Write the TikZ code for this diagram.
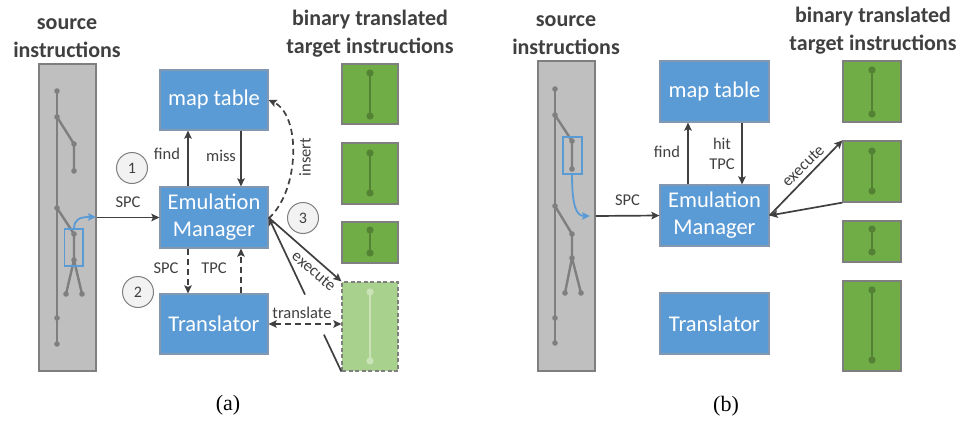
\documentclass[tikz,border=0pt]{standalone}
\usepackage{fontspec}
\setmainfont{Carlito}
\newfontfamily\capfont{Liberation Serif}
\usetikzlibrary{arrows.meta,calc}

\definecolor{boxblue}{HTML}{5B9BD5}
\definecolor{boxedge}{HTML}{8497B0}
\definecolor{srcgray}{HTML}{BFBFBF}
\definecolor{srcedge}{HTML}{7F7F7F}
\definecolor{treegray}{HTML}{7F7F7F}
\definecolor{tgtgreen}{HTML}{70AD47}
\definecolor{tgtline}{HTML}{548235}
\definecolor{lightgreen}{HTML}{A9D18E}
\definecolor{lightline}{HTML}{C9E2B8}
\definecolor{inkgray}{HTML}{404040}
\definecolor{circfill}{HTML}{F2F2F2}

\tikzset{
  blk/.style={draw=boxedge, line width=1.2pt, fill=boxblue, text=white,
    minimum width=108pt, minimum height=60pt, inner sep=0pt, align=center,
    font=\fontsize{22.5}{27}\selectfont},
  srccol/.style={draw=srcedge, line width=1.2pt, fill=srcgray,
    minimum width=57pt, inner sep=0pt},
  tgt/.style={draw=srcedge, line width=1.2pt, fill=tgtgreen,
    minimum width=56pt, inner sep=0pt},
  tgtnew/.style={draw=srcedge, line width=1.2pt, dashed, dash pattern=on 4pt off 2.5pt,
    fill=lightgreen, minimum width=56pt, inner sep=0pt},
  ttl/.style={text=inkgray, align=center, font=\bfseries\fontsize{22}{28}\selectfont},
  lbl/.style={text=inkgray, inner sep=0pt, font=\fontsize{16.5}{19}\selectfont},
  capt/.style={text=black, font=\capfont\fontsize{22}{26}\selectfont},
  stepnum/.style={circle, draw=srcedge, line width=1pt, fill=circfill,
    minimum size=31pt, inner sep=0pt, text=inkgray, font=\fontsize{16}{19}\selectfont},
  arr/.style={draw=inkgray, line width=1.7pt,
    -{Stealth[length=8pt,width=7.5pt,inset=1.5pt]}},
  plain/.style={draw=inkgray, line width=1.7pt},
  darr/.style={arr, dash pattern=on 6pt off 4pt},
  dboth/.style={darr, {Stealth[length=8pt,width=7.5pt,inset=1.5pt]}-{Stealth[length=8pt,width=7.5pt,inset=1.5pt]}},
  tree/.style={draw=treegray, line width=2.4pt, line cap=round},
  bluecurve/.style={draw=boxblue, line width=1.8pt,
    -{Stealth[length=8pt,width=7.5pt,inset=1.5pt]}},
  bluerect/.style={draw=boxblue, line width=1.8pt},
}

% a dot of an instruction tree
\newcommand{\tdot}[3][treegray]{\fill[#1] (#2,#3) circle (2.8pt);}
\newcommand{\gdot}[3][tgtline]{\fill[#1] (#2,#3) circle (3.6pt);}

\begin{document}
\begin{tikzpicture}[x=1pt,y=-1pt]
\useasboundingbox (0,0) rectangle (965,425);
\fill[white] (0,0) rectangle (965,425);

% ================= panel (a) =================
\node[ttl] (ttlsrcA) at (67,38) {source\\instructions};
\node[ttl] (ttltgtA) at (370,33.5) {binary translated\\target instructions};

\node[srccol, minimum height=307pt] (srcA) at (67.5,217.5) {};
% source instruction tree
\draw[tree] (57,91) -- (57,344);
\draw[tree] (57,117) -- (74,144) -- (74,171);
\draw[tree] (57,208) -- (74,234) -- (74,260) -- (66,294);
\draw[tree] (74,260) -- (82,294);
\foreach \yy in {91,117,208,318,344} {\tdot{57}{\yy}}
\foreach \xx/\yy in {74/144,74/171,74/234,74/260,66/294,82/294} {\tdot{\xx}{\yy}}
\draw[bluerect] (64.5,229) rectangle (83,266);
\draw[bluecurve] (74,229) .. controls (74,219) and (80,217) .. (96,217);

\node[blk] (mapA) at (214,100) {map table};
\node[blk, minimum height=61pt] (emA) at (214,217.5) {Emulation\\Manager};
\node[blk] (trA) at (214,324) {Translator};

\node[tgt, minimum height=60pt] (tA1) at (370,94) {};
\node[tgt, minimum height=61pt] (tA2) at (370,173.5) {};
\node[tgt, minimum height=41pt] (tA3) at (370,242.5) {};
\node[tgtnew, minimum height=89pt] (tA4) at (370,326.5) {};
\draw[tgtline, line width=2.4pt] (370,73) -- (370,116); \gdot{370}{73}\gdot{370}{116}
\draw[tgtline, line width=2.4pt] (370,153) -- (370,193); \gdot{370}{153}\gdot{370}{193}
\draw[tgtline, line width=2.4pt] (370,230) -- (370,253); \gdot{370}{230}\gdot{370}{253}
\draw[lightline, line width=2.4pt] (370,292) -- (370,361); \gdot[lightline]{370}{292}\gdot[lightline]{370}{361}

% connectors
\draw[arr] (srcA.east) -- node[lbl, above=9pt] {SPC} (emA.west);
\draw[arr] ([xshift=-26pt]emA.north) -- ([xshift=-26pt]mapA.south);
\draw[arr] ([xshift=27pt]mapA.south) -- ([xshift=27pt]emA.north);
\node[lbl] (findA) at (167,154) {find};
\node[lbl] (missA) at (221,156) {miss};
\draw[darr] ([xshift=-26pt]emA.south) -- ([xshift=-26pt]trA.north);
\draw[darr] ([xshift=27pt]trA.north) -- ([xshift=27pt]emA.south);
\node[lbl] (spcA2) at (166,268) {SPC};
\node[lbl] (tpcA) at (214,268) {TPC};
\draw[darr] ([yshift=-1pt]emA.east) .. controls (300,190) and (301,115) .. (mapA.east);
\node[lbl, rotate=90] (insA) at (305,157) {insert};
\draw[arr] (emA.east) -- (tA4.north west);
\node[lbl, rotate=-40.8] (exeA) at (314,271) {execute};
\draw[plain] (tA4.south west) -- ($(tA4.south west)!0.24!(emA.east)$);
\draw[arr] ($(tA4.south west)!0.5!(emA.east)$) -- (emA.east);
\draw[dboth] (trA.east) -- (trA.east -| tA4.west);
\node[lbl] (trlA) at (302,313) {translate};

\node[stepnum] (c1) at (132,168) {1};
\node[stepnum] (c2) at (138,292) {2};
\node[stepnum] (c3) at (303,218) {3};

\node[capt] (capA) at (228,405) {(a)};

% ================= panel (b) =================
\node[ttl] (ttlsrcB) at (566,35) {source\\instructions};
\node[ttl] (ttltgtB) at (873,31) {binary translated\\target instructions};

\node[srccol, minimum height=310pt] (srcB) at (566.5,216) {};
\draw[tree] (555,89) -- (555,343);
\draw[tree] (555,115) -- (572,141) -- (572,169);
\draw[tree] (555,206) -- (572,234) -- (572,258) -- (565,293);
\draw[tree] (572,258) -- (581,293);
\foreach \yy in {89,115,206,318,343} {\tdot{555}{\yy}}
\foreach \xx/\yy in {572/141,572/169,572/234,572/258,565/293,581/293} {\tdot{\xx}{\yy}}
\draw[bluerect] (563,137) rectangle (582,174);
\draw[bluecurve] (572,174) .. controls (572,205) and (576,216) .. (590,216);

\node[blk, minimum width=109pt, minimum height=61pt] (mapB) at (714.5,91.5) {map table};
\node[blk, minimum width=109pt, minimum height=61pt] (emB) at (714.5,215.5) {Emulation\\Manager};
\node[blk, minimum width=109pt, minimum height=61pt] (trB) at (714.5,323.5) {Translator};

\node[tgt, minimum width=58pt, minimum height=61pt] (tB1) at (872,91.5) {};
\node[tgt, minimum width=58pt, minimum height=61pt] (tB2) at (872,171.5) {};
\node[tgt, minimum width=58pt, minimum height=41pt] (tB3) at (872,241.5) {};
\node[tgt, minimum width=58pt, minimum height=90pt] (tB4) at (872,326) {};
\draw[tgtline, line width=2.4pt] (872,70) -- (872,114); \gdot{872}{70}\gdot{872}{114}
\draw[tgtline, line width=2.4pt] (872,151) -- (872,191); \gdot{872}{151}\gdot{872}{191}
\draw[tgtline, line width=2.4pt] (872,229) -- (872,252); \gdot{872}{229}\gdot{872}{252}
\draw[tgtline, line width=2.4pt] (872,290) -- (872,360); \gdot{872}{290}\gdot{872}{360}

\draw[arr] (srcB.east) -- node[lbl, above=9pt] {SPC} (emB.west);
\draw[arr] ([xshift=-26.5pt]emB.north) -- ([xshift=-26.5pt]mapB.south);
\draw[arr] ([xshift=27.5pt]mapB.south) -- ([xshift=27.5pt]emB.north);
\node[lbl] (findB) at (667,152) {find};
\node[lbl, align=center, font=\fontsize{16.5}{19.5}\selectfont] (hitB) at (722,154) {hit\\TPC};
\draw[arr] (emB.east) -- (tB2.north west);
\node[lbl, rotate=44.6] (exeB) at (803,166) {execute};
\draw[arr] (tB2.south west) -- (emB.east);

\node[capt] (capB) at (726,406) {(b)};
\end{tikzpicture}
\end{document}
